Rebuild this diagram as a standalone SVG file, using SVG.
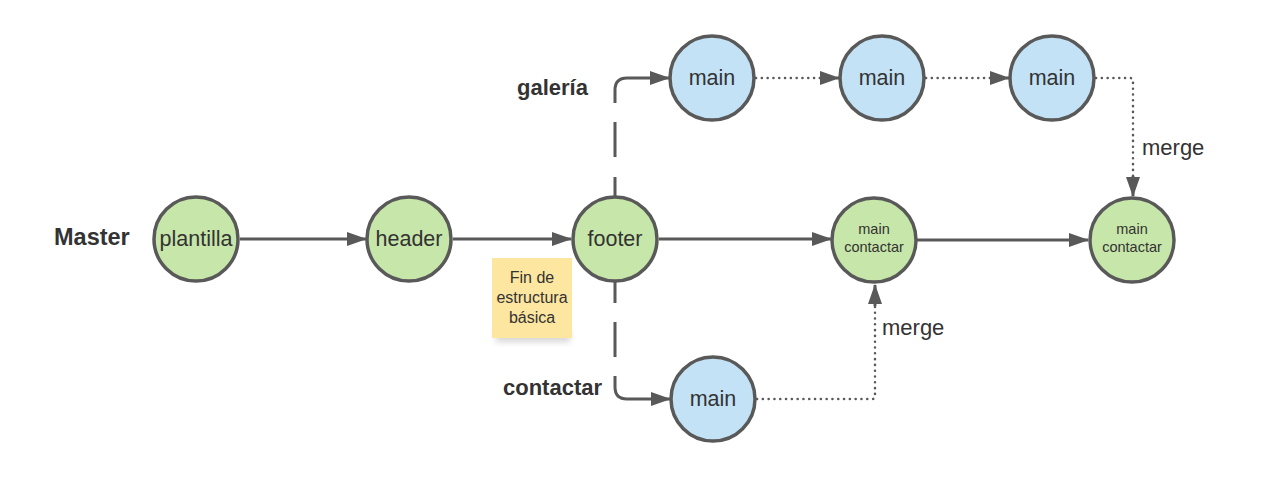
<svg xmlns="http://www.w3.org/2000/svg" width="1273" height="480" viewBox="0 0 1273 480">
<defs>
<style>
.node circle{stroke:#595959;stroke-width:3.5}
.g{fill:#c7e6a9}
.b{fill:#c3e2f5}
.t{font-family:"Liberation Sans",Arial,sans-serif;fill:#333;text-anchor:middle}
.big{font-size:21.5px}
.sm{font-size:14.5px}
.lbl{font-family:"Liberation Sans",Arial,sans-serif;fill:#333;font-size:22px;font-weight:bold}
.edge{fill:none;stroke:#595959;stroke-width:3}
.dot{stroke-width:2.5;stroke-dasharray:0.1 5.7;stroke-linecap:round}
.ml{font-family:"Liberation Sans",Arial,sans-serif;fill:#333;font-size:22px}
</style>
<marker id="ah" viewBox="0 0 20 14" refX="19" refY="7" markerWidth="20" markerHeight="14" markerUnits="userSpaceOnUse" orient="auto">
<path d="M0,0 L20,7 L0,14 Z" fill="#595959"/>
</marker>
<filter id="sh" x="-20%" y="-20%" width="140%" height="160%">
<feGaussianBlur stdDeviation="3"/>
</filter>
</defs>
<rect width="1273" height="480" fill="#fff"/>
<g id="connectors">
<path class="edge" d="M240,239 H366" marker-end="url(#ah)"/>
<path class="edge" d="M453,239 H571" marker-end="url(#ah)"/>
<path class="edge" d="M659,239 H831" marker-end="url(#ah)"/>
<path class="edge" d="M917,240 H1088" marker-end="url(#ah)"/>
<path class="edge" d="M615,196 V177 M615,157 V122"/>
<path class="edge" d="M615,103 V90 Q615,78 627,78 H669" marker-end="url(#ah)"/>
<path class="edge" d="M615,282 V303 M615,322 V357"/>
<path class="edge" d="M615,376 V387 Q615,399 627,399 H670" marker-end="url(#ah)"/>
<path class="edge dot" d="M756,78 H836"/>
<path class="edge" d="M836,78 H839" marker-end="url(#ah)"/>
<path class="edge dot" d="M926,78 H1006"/>
<path class="edge" d="M1006,78 H1009" marker-end="url(#ah)"/>
<path class="edge dot" d="M1096,78 H1130 Q1133,78 1133,81 V176"/>
<path class="edge" d="M1133,176 V196" marker-end="url(#ah)"/>
<path class="edge dot" d="M757,399 H872 Q875,399 875,396 V306"/>
<path class="edge" d="M875,306 V285" marker-end="url(#ah)"/>
</g>
<text class="lbl" x="54" y="245" style="font-size:23.5px">Master</text>
<text class="lbl" x="517" y="95">galería</text>
<text class="lbl" x="503" y="395">contactar</text>
<text class="ml" x="1142" y="155">merge</text>
<text class="ml" x="882" y="335">merge</text>
<g id="note">
<rect x="496" y="330" width="74" height="12" fill="#bbb" opacity="0.6" filter="url(#sh)"/>
<rect x="492" y="258" width="80" height="80" fill="#fde69f"/>
<text class="t" font-size="16" x="532" y="283">Fin de</text>
<text class="t" font-size="16" x="532" y="303">estructura</text>
<text class="t" font-size="16" x="532" y="323">básica</text>
</g>
<g id="plantilla" class="node"><circle class="g" cx="196" cy="239" r="42"/><text class="t big" x="196" y="246">plantilla</text></g>
<g id="header" class="node"><circle class="g" cx="409" cy="239" r="42"/><text class="t big" x="409" y="246">header</text></g>
<g id="footer" class="node"><circle class="g" cx="615" cy="239" r="42"/><text class="t big" x="615" y="246">footer</text></g>
<g id="galeria1" class="node"><circle class="b" cx="712" cy="78" r="42"/><text class="t big" x="712" y="85">main</text></g>
<g id="galeria2" class="node"><circle class="b" cx="882" cy="78" r="42"/><text class="t big" x="882" y="85">main</text></g>
<g id="galeria3" class="node"><circle class="b" cx="1052" cy="78" r="42"/><text class="t big" x="1052" y="85">main</text></g>
<g id="contactar1" class="node"><circle class="b" cx="713" cy="399" r="42"/><text class="t big" x="713" y="406">main</text></g>
<g id="merge1" class="node"><circle class="g" cx="874" cy="240" r="42"/><text class="t sm" x="874" y="234">main</text><text class="t sm" x="874" y="252">contactar</text></g>
<g id="merge2" class="node"><circle class="g" cx="1132" cy="240" r="42"/><text class="t sm" x="1132" y="234">main</text><text class="t sm" x="1132" y="252">contactar</text></g>
</svg>
